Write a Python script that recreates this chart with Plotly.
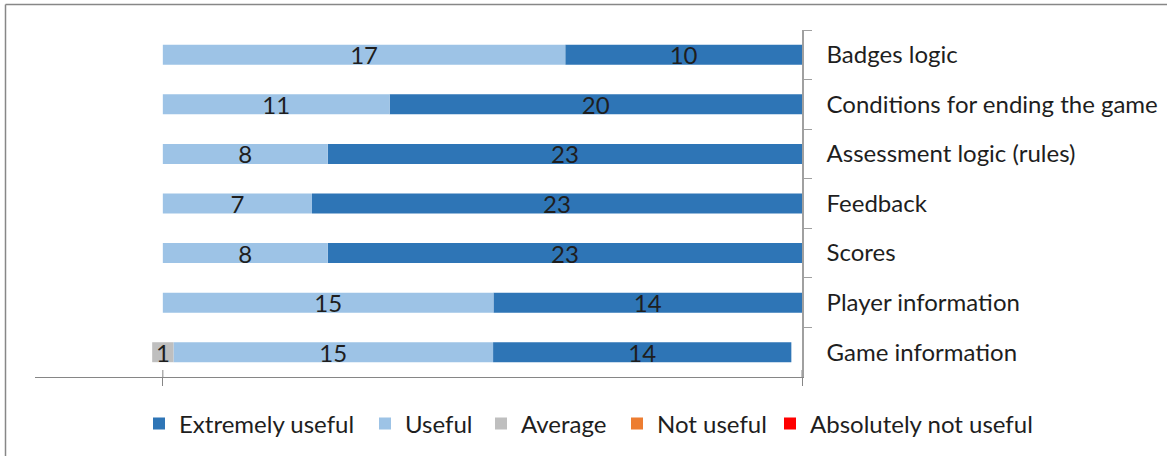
import plotly.graph_objects as go

categories = ["Badges logic", "Conditions for ending the game", "Assessment logic (rules)",
              "Feedback", "Scores", "Player information", "Game information"]
extremely_useful = [10, 20, 23, 23, 23, 14, 14]
useful = [17, 11, 8, 7, 8, 15, 15]
average = [0, 0, 0, 0, 0, 0, 1]
not_useful = [0, 0, 0, 0, 0, 0, 0]
absolutely_not_useful = [0, 0, 0, 0, 0, 0, 0]

FONT = "Lato"
FS = 24
TXT = "#1e1e1e"

totals = [a + b + c + d + e for a, b, c, d, e in
          zip(extremely_useful, useful, average, not_useful, absolutely_not_useful)]

def pct(vals):
    return [v / t * 100 if t else 0 for v, t in zip(vals, totals)]

p_ext, p_use, p_avg, p_nu, p_anu = map(pct, [extremely_useful, useful, average,
                                             not_useful, absolutely_not_useful])

b_avg = [-a / 2 for a in p_avg]
b_use = [a / 2 for a in p_avg]
b_ext = [a / 2 + u for a, u in zip(p_avg, p_use)]
b_nu = [-a / 2 - n for a, n in zip(p_avg, p_nu)]
b_anu = [bn - an for bn, an in zip(b_nu, p_anu)]

def lab(vals):
    return [str(v) if v else "" for v in vals]

series = [
    ("Extremely useful", p_ext, b_ext, extremely_useful, "#2E75B6"),
    ("Useful", p_use, b_use, useful, "#9DC3E6"),
    ("Average", p_avg, b_avg, average, "#BFBFBF"),
    ("Not useful", p_nu, b_nu, not_useful, "#ED7D31"),
    ("Absolutely not useful", p_anu, b_anu, absolutely_not_useful, "#FF0000"),
]

L, R, T, B = 35, 802, 30, 377
W, H = 1167, 456
pw, ph = R - L, B - T

def px(xp):
    return (xp - L) / pw

def py(yp):
    return (B - yp) / ph

# left edge (pixels) of each legend marker in the reference layout
legend_marker_left = [155, 381, 497, 633, 786]
legend_names = ["legend", "legend2", "legend3", "legend4", "legend5"]

fig = go.Figure()
for (name, x, base, raw, color), lg in zip(series, legend_names):
    fig.add_trace(go.Bar(
        name=name, y=categories, x=x, base=base, orientation="h",
        marker=dict(color=color, line=dict(width=0)),
        text=lab(raw), texttemplate="%{text}", textposition="inside",
        insidetextanchor="middle", textangle=0,
        textfont=dict(family=FONT, size=FS, color=TXT),
        legend=lg,
    ))

shapes = [
    dict(type="line", xref="paper", yref="paper", x0=px(5.5), x1=px(W + 5), y0=py(4.5), y1=py(4.5),
         line=dict(color="#878787", width=1.5)),
    dict(type="line", xref="paper", yref="paper", x0=px(5.5), x1=px(5.5), y0=py(4.5), y1=py(H + 5),
         line=dict(color="#878787", width=1.5)),
]
for xv in [0, 100]:
    shapes.append(dict(type="line", xref="x", yref="paper", x0=xv, x1=xv, y0=0, y1=7 / ph,
                       line=dict(color="#868686", width=1)))

legend_layouts = {}
for lg, ml in zip(legend_names, legend_marker_left):
    legend_layouts[lg] = dict(orientation="h", x=px(ml - 16), y=py(424), xanchor="left",
                              yanchor="middle", font=dict(family=FONT, size=FS, color=TXT),
                              bgcolor="rgba(0,0,0,0)", borderwidth=0)

fig.update_layout(
    width=W, height=H,
    margin=dict(l=L, r=W - R, t=T, b=H - B, pad=0, autoexpand=False),
    paper_bgcolor="white", plot_bgcolor="white",
    barmode="overlay", bargap=0.597,
    font=dict(family=FONT, size=FS, color=TXT),
    uniformtext=dict(mode="show", minsize=FS),
    showlegend=True,
    xaxis=dict(range=[-20, 100], showgrid=False, zeroline=False, showline=True,
               linecolor="#868686", linewidth=1, ticks="outside", ticklen=8,
               tickcolor="#868686", tickvals=[0, 100], showticklabels=False, fixedrange=True),
    yaxis=dict(type="category", categoryorder="array", categoryarray=categories,
               autorange="reversed", side="right", showline=True, linecolor="#a0a0a0",
               linewidth=1.5, ticks="outside", ticklen=8, tickcolor="#a0a0a0",
               tickson="boundaries", showgrid=False, zeroline=False, ticklabelstandoff=18,
               tickfont=dict(family=FONT, size=FS, color=TXT), fixedrange=True),
    shapes=shapes,
    **legend_layouts,
)

fig.write_html("out.html", config={"displayModeBar": False},
               post_script="document.body.style.margin='0';")
